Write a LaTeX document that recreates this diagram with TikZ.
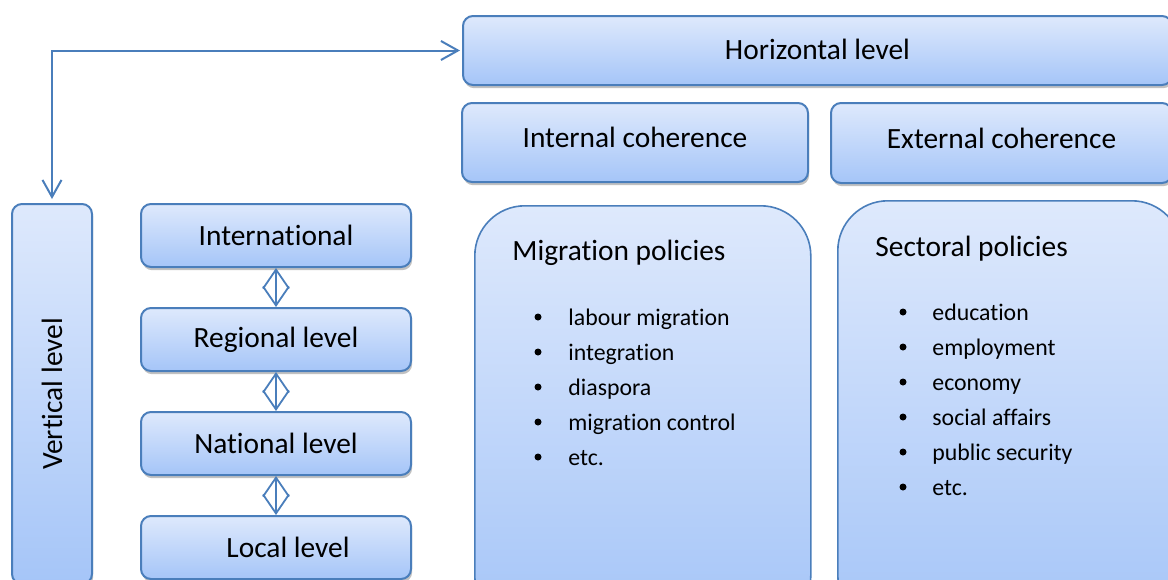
\documentclass[tikz,border=0pt]{standalone}
\usepackage{fontspec}
\setmainfont{Carlito}[Ligatures=NoCommon]
\usetikzlibrary{arrows.meta,shadows}
\definecolor{boxline}{RGB}{74,126,187}
\definecolor{boxtop}{RGB}{222,233,252}
\definecolor{boxbottom}{RGB}{165,197,248}

\begin{document}
\begin{tikzpicture}[x=0.5pt,y=-0.5pt]


 \tikzset{
    box/.style={
      rectangle,
      rounded corners=5pt,
      draw=boxline,
      line width=1pt,
      top color=boxtop,
      bottom color=boxbottom,
      inner sep=0mm,
      font=\fontsize{14.7}{17}\selectfont,
      drop shadow={shadow xshift=0.6pt, shadow yshift=-1.6pt, opacity=0.3, fill=black!80}
    },
    bigbox/.style={
      rectangle,
      rounded corners=25pt,
      draw=boxline,
      line width=0.8pt,
      top color=boxtop,
      bottom color=boxbottom,
      inner sep=0mm
    },
    title/.style={anchor=west, inner sep=0mm, font=\fontsize{14.7}{17}\selectfont},
    item/.style={anchor=west, inner sep=0mm, text height=1.5ex, text depth=0.25ex, font=\fontsize{11.9}{14}\selectfont},
    dot/.style={circle, fill=black, inner sep=0mm, minimum size=3.5pt},
    link/.style={draw=boxline, line width=1pt, {Straight Barb[length=8.5pt,width=9.5pt]}-{Straight Barb[length=8.5pt,width=9.5pt]}},
    pair/.style={draw=boxline, line width=0.9pt, {Straight Barb[length=9.5pt,width=13pt]}-{Straight Barb[length=9.5pt,width=13pt]}}
  }

\useasboundingbox (0,0) rectangle (1168,579);
\clip (0,0) rectangle (1168,579);

\node[box, minimum width=354.5pt, minimum height=34.5pt] (horiz) at (817.5,50.5) {\raisebox{1pt}{Horizontal level}};
\node[box, minimum width=173pt, minimum height=39.5pt] (intcoh) at (635,142.5) {\raisebox{5pt}{Internal coherence}};
\node[box, minimum width=170.5pt, minimum height=40pt] (extcoh) at (1001.5,143) {\raisebox{5pt}{External coherence}};

\node[box, minimum width=40pt, minimum height=190pt] (vert) at (52,394) {};
\node[rotate=90, inner sep=0mm, font=\fontsize{14.7}{17}\selectfont] (vertlabel) at (vert) {Vertical level};

\foreach \n/\t [count=\i] in {intl/International, reg/Regional level, nat/National level}
    \node[box, minimum width=135pt, minimum height=31.5pt] (\n) at (276,131.5+104*\i) {\t};
\node[box, minimum width=135pt, minimum height=31.5pt] (loc) at (276,547.5) {\hspace*{12pt}Local level};

\foreach \a/\b in {intl/reg, reg/nat, nat/loc}
    \draw[pair] (\a.south) -- (\b.north);

\draw[link, shorten <=2pt, shorten >=1pt] (vert.north) |- (horiz.west);

\node[bigbox, minimum width=168pt, minimum height=210pt, anchor=north west] (migbox) at (474,205) {};
\node[bigbox, minimum width=172pt, minimum height=212pt, anchor=north west] (secbox) at (837,200) {};

\node[title] (migtitle) at (512,253) {Migration policies};
\node[title] (sectitle) at (875,249) {Sectoral policies};

\foreach \t [count=\i] in {labour migration, integration, diaspora, migration control, etc.} {
    \node[dot] (migdot-\i) at (538,282+35*\i) {};
    \node[item] (mig-\i) at (568,285+35*\i) {\t};
}
\foreach \t [count=\i] in {education, employment, economy, social affairs, public security, etc.} {
    \node[dot] (secdot-\i) at (903,277+35*\i) {};
    \node[item] (sec-\i) at (932,280+35*\i) {\t};
}
\end{tikzpicture}
\end{document}
